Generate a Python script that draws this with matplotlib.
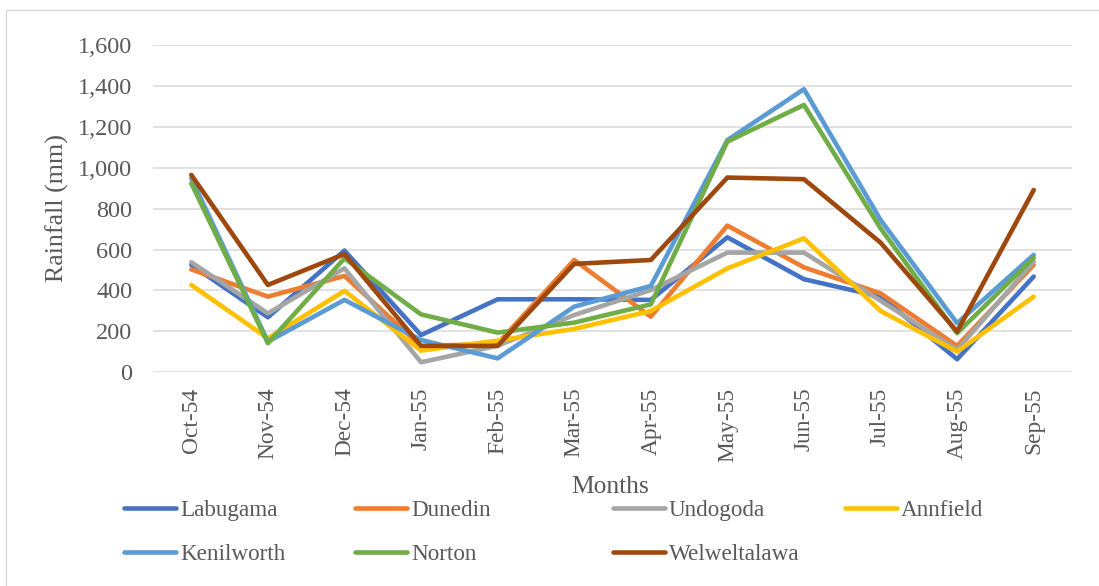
import matplotlib
matplotlib.use("Agg")
import matplotlib.pyplot as plt
from matplotlib.lines import Line2D
from matplotlib.patches import Rectangle
from matplotlib.ticker import FuncFormatter, MultipleLocator

months = ["Oct-54", "Nov-54", "Dec-54", "Jan-55", "Feb-55", "Mar-55",
          "Apr-55", "May-55", "Jun-55", "Jul-55", "Aug-55", "Sep-55"]

labugama = [525, 269, 595, 182, 357, 357, 354, 660, 455, 370, 64, 468]
dunedin = [503, 370, 471, 128, 140, 549, 272, 717, 513, 386, 129, 525]
undogoda = [538, 288, 508, 49, 130, 280, 402, 585, 585, 350, 110, 541]
annfield = [427, 166, 398, 106, 155, 212, 300, 508, 655, 300, 101, 370]
kenilworth = [949, 150, 354, 158, 68, 321, 422, 1135, 1384, 745, 240, 574]
norton = [924, 142, 557, 283, 194, 243, 332, 1128, 1307, 704, 191, 560]
welweltalawa = [965, 427, 578, 129, 129, 530, 549, 952, 944, 634, 199, 891]

series_names = ["Labugama", "Dunedin", "Undogoda", "Annfield",
                "Kenilworth", "Norton", "Welweltalawa"]
series_values = [labugama, dunedin, undogoda, annfield,
                 kenilworth, norton, welweltalawa]
series_colors = ["#4472C4", "#ED7D31", "#A5A5A5", "#FFC000",
                 "#5B9BD5", "#70AD47", "#9E480E"]

W, H = 1099, 586
plt.rcParams['font.family'] = ['Liberation Serif', 'DejaVu Serif']
TXT = "#595959"

fig = plt.figure(figsize=(W / 100, H / 100), dpi=100)
ax = fig.add_axes([153 / W, 1 - 372.3 / H, (1072 - 153) / W, (372.3 - 45) / H])

x = list(range(len(months)))
for name, vals, col in zip(series_names, series_values, series_colors):
    ax.plot(x, vals, color=col, linewidth=3.3, solid_capstyle='round',
            solid_joinstyle='round', label=name, zorder=3)

ax.set_xlim(-0.5, len(months) - 0.5)
ax.set_ylim(0, 1600)
ax.yaxis.set_major_locator(MultipleLocator(200))
ax.yaxis.set_major_formatter(FuncFormatter(lambda v, p: f"{v:,.0f}"))
ax.grid(axis='y', color='#D9D9D9', linewidth=1.1, zorder=0)
ax.set_axisbelow(True)
for s in ax.spines.values():
    s.set_visible(False)
ax.set_xticks(x)
ax.set_xticklabels(months, rotation=90, va='top', ha='center')
ax.tick_params(axis='x', length=0, pad=11, labelsize=16.8, labelcolor=TXT)
ax.tick_params(axis='y', length=0, pad=15, labelsize=17.5, labelcolor=TXT)

fig.text(57 / W, 1 - 208 / H, "Rainfall (mm)", rotation=90, ha='center',
         va='center', fontsize=18.7, color=TXT)
fig.text(610 / W, 1 - 487 / H, "Months", ha='center', va='center',
         fontsize=18.4, color=TXT)

# legend (manual layout to match the reference)
col_x = [124, 355, 613, 845]
row_y = [508, 552]
for i, (name, col) in enumerate(zip(series_names, series_colors)):
    r, c = divmod(i, 4)
    x0 = col_x[c]
    y0 = 1 - row_y[r] / H
    fig.add_artist(Line2D([x0 / W, (x0 + 52) / W], [y0, y0], color=col,
                          linewidth=3.3, solid_capstyle='round',
                          transform=fig.transFigure))
    fig.text((x0 + 56) / W, 1 - (row_y[r] + 8) / H, name, ha='left',
             va='baseline', fontsize=16.7, color=TXT)

# chart border
fig.add_artist(Rectangle((6 / W, -0.1), 1.2, (1 - 10 / H) + 0.1,
                         transform=fig.transFigure, fill=False,
                         edgecolor='#D9D9D9', linewidth=1.0, clip_on=False))

fig.savefig("out.png", dpi=100)
